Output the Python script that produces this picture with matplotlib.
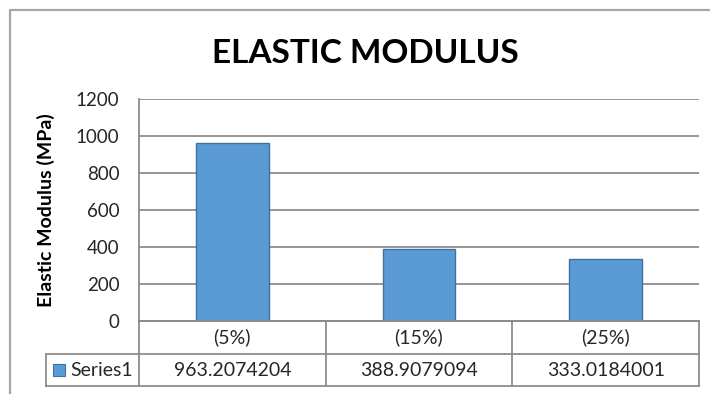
import matplotlib
matplotlib.use("Agg")
import matplotlib.pyplot as plt
from matplotlib.lines import Line2D
from matplotlib.patches import Rectangle

# --- data ---
categories = ["(5%)", "(15%)", "(25%)"]
series_name = "Series1"
series_values = [963.2074204, 388.9079094, 333.0184001]
y_ticks = [0, 200, 400, 600, 800, 1000, 1200]

# --- layout (pixels) ---
W, H, DPI = 710, 394, 100
PLOT_L, PLOT_R, PLOT_T, PLOT_B = 139, 699, 99, 321
TABLE_B, ROW_SPLIT = 386, 354
LEGEND_L = 46

BAR_COLOR = "#5b9bd5"
BAR_EDGE = "#41719c"
GRID = "#8c8c8c"
TEXT = "#262626"

plt.rcParams["font.family"] = ["Lato", "DejaVu Sans"]

fig = plt.figure(figsize=(W / DPI, H / DPI), dpi=DPI)
fig.patch.set_facecolor("white")


def fx(px):
    return px / W


def fy(py):
    return 1 - py / H


# chart area border (runs off the right and bottom edges)
fig.add_artist(Line2D([fx(10), fx(10), fx(W + 5)], [fy(H + 5), fy(10), fy(10)],
                      transform=fig.transFigure, color="#a6a6a6", lw=1.6))

fig.text(fx(365), fy(63), "ELASTIC MODULUS", ha="center", va="baseline",
         fontsize=24, fontweight="bold", color="black")

ax = fig.add_axes([fx(PLOT_L), fy(PLOT_B), fx(PLOT_R) - fx(PLOT_L), fy(PLOT_T) - fy(PLOT_B)])
x = list(range(len(categories)))
ax.bar(x, series_values, width=0.39, color=BAR_COLOR, edgecolor=BAR_EDGE, linewidth=1.0, zorder=3)
ax.set_xlim(-0.5, len(categories) - 0.5)
ax.set_ylim(0, 1200)
ax.set_yticks(y_ticks)
ax.set_yticklabels([str(v) for v in y_ticks])
ax.yaxis.grid(True, color=GRID, lw=1.3, zorder=0)
ax.set_axisbelow(True)
ax.tick_params(axis="y", length=0, pad=14, labelsize=13.5, labelcolor=TEXT)
ax.tick_params(axis="x", length=0, labelbottom=False)
for s in ["top", "right"]:
    ax.spines[s].set_visible(False)
ax.spines["left"].set_color(GRID)
ax.spines["left"].set_linewidth(1.3)
ax.spines["bottom"].set_color(GRID)
ax.spines["bottom"].set_linewidth(1.3)
ax.set_ylabel("Elastic Modulus (MPa)", fontsize=14, fontweight="bold", color="black")
ax.yaxis.set_label_coords((55 - PLOT_L) / (PLOT_R - PLOT_L), 0.5)

# --- data table under the plot, sharing the category scale ---
unit = (PLOT_R - PLOT_L) / len(categories)
left_edge = -0.5 - (PLOT_L - LEGEND_L) / unit
tax = fig.add_axes([fx(LEGEND_L), fy(TABLE_B), fx(PLOT_R) - fx(LEGEND_L), fy(PLOT_B) - fy(TABLE_B)])
tax.set_xlim(left_edge, len(categories) - 0.5)
tax.set_ylim(2, 0)
tax.axis("off")

n = len(categories)
row1_mid = (ROW_SPLIT - PLOT_B) / (TABLE_B - PLOT_B)
tkw = dict(color=GRID, lw=1.3, clip_on=False, solid_capstyle="projecting")
tax.plot([-0.5, n - 0.5], [0, 0], **tkw)
tax.plot([left_edge, n - 0.5], [2 * row1_mid, 2 * row1_mid], **tkw)
tax.plot([left_edge, n - 0.5], [2, 2], **tkw)
for b in range(n + 1):
    tax.plot([b - 0.5, b - 0.5], [0, 2], **tkw)
tax.plot([left_edge, left_edge], [2 * row1_mid, 2], **tkw)

y_cat = row1_mid
y_val = 2 * row1_mid + (2 - 2 * row1_mid) / 2
for i, (c, v) in enumerate(zip(categories, series_values)):
    tax.text(i, y_cat, c, ha="center", va="center", fontsize=14, color=TEXT)
    tax.text(i, y_val, f"{v:.7f}", ha="center", va="center", fontsize=14, color=TEXT)

# legend key and series name
key_w = 12 / unit
tax.add_patch(Rectangle((left_edge + 7 / unit, y_val - 0.18), key_w, 0.36,
                        facecolor=BAR_COLOR, edgecolor=BAR_EDGE, lw=0.8, clip_on=False))
tax.text(left_edge + 24 / unit, y_val, series_name, ha="left", va="center",
         fontsize=14, color=TEXT)

fig.savefig("out.png", dpi=DPI)
